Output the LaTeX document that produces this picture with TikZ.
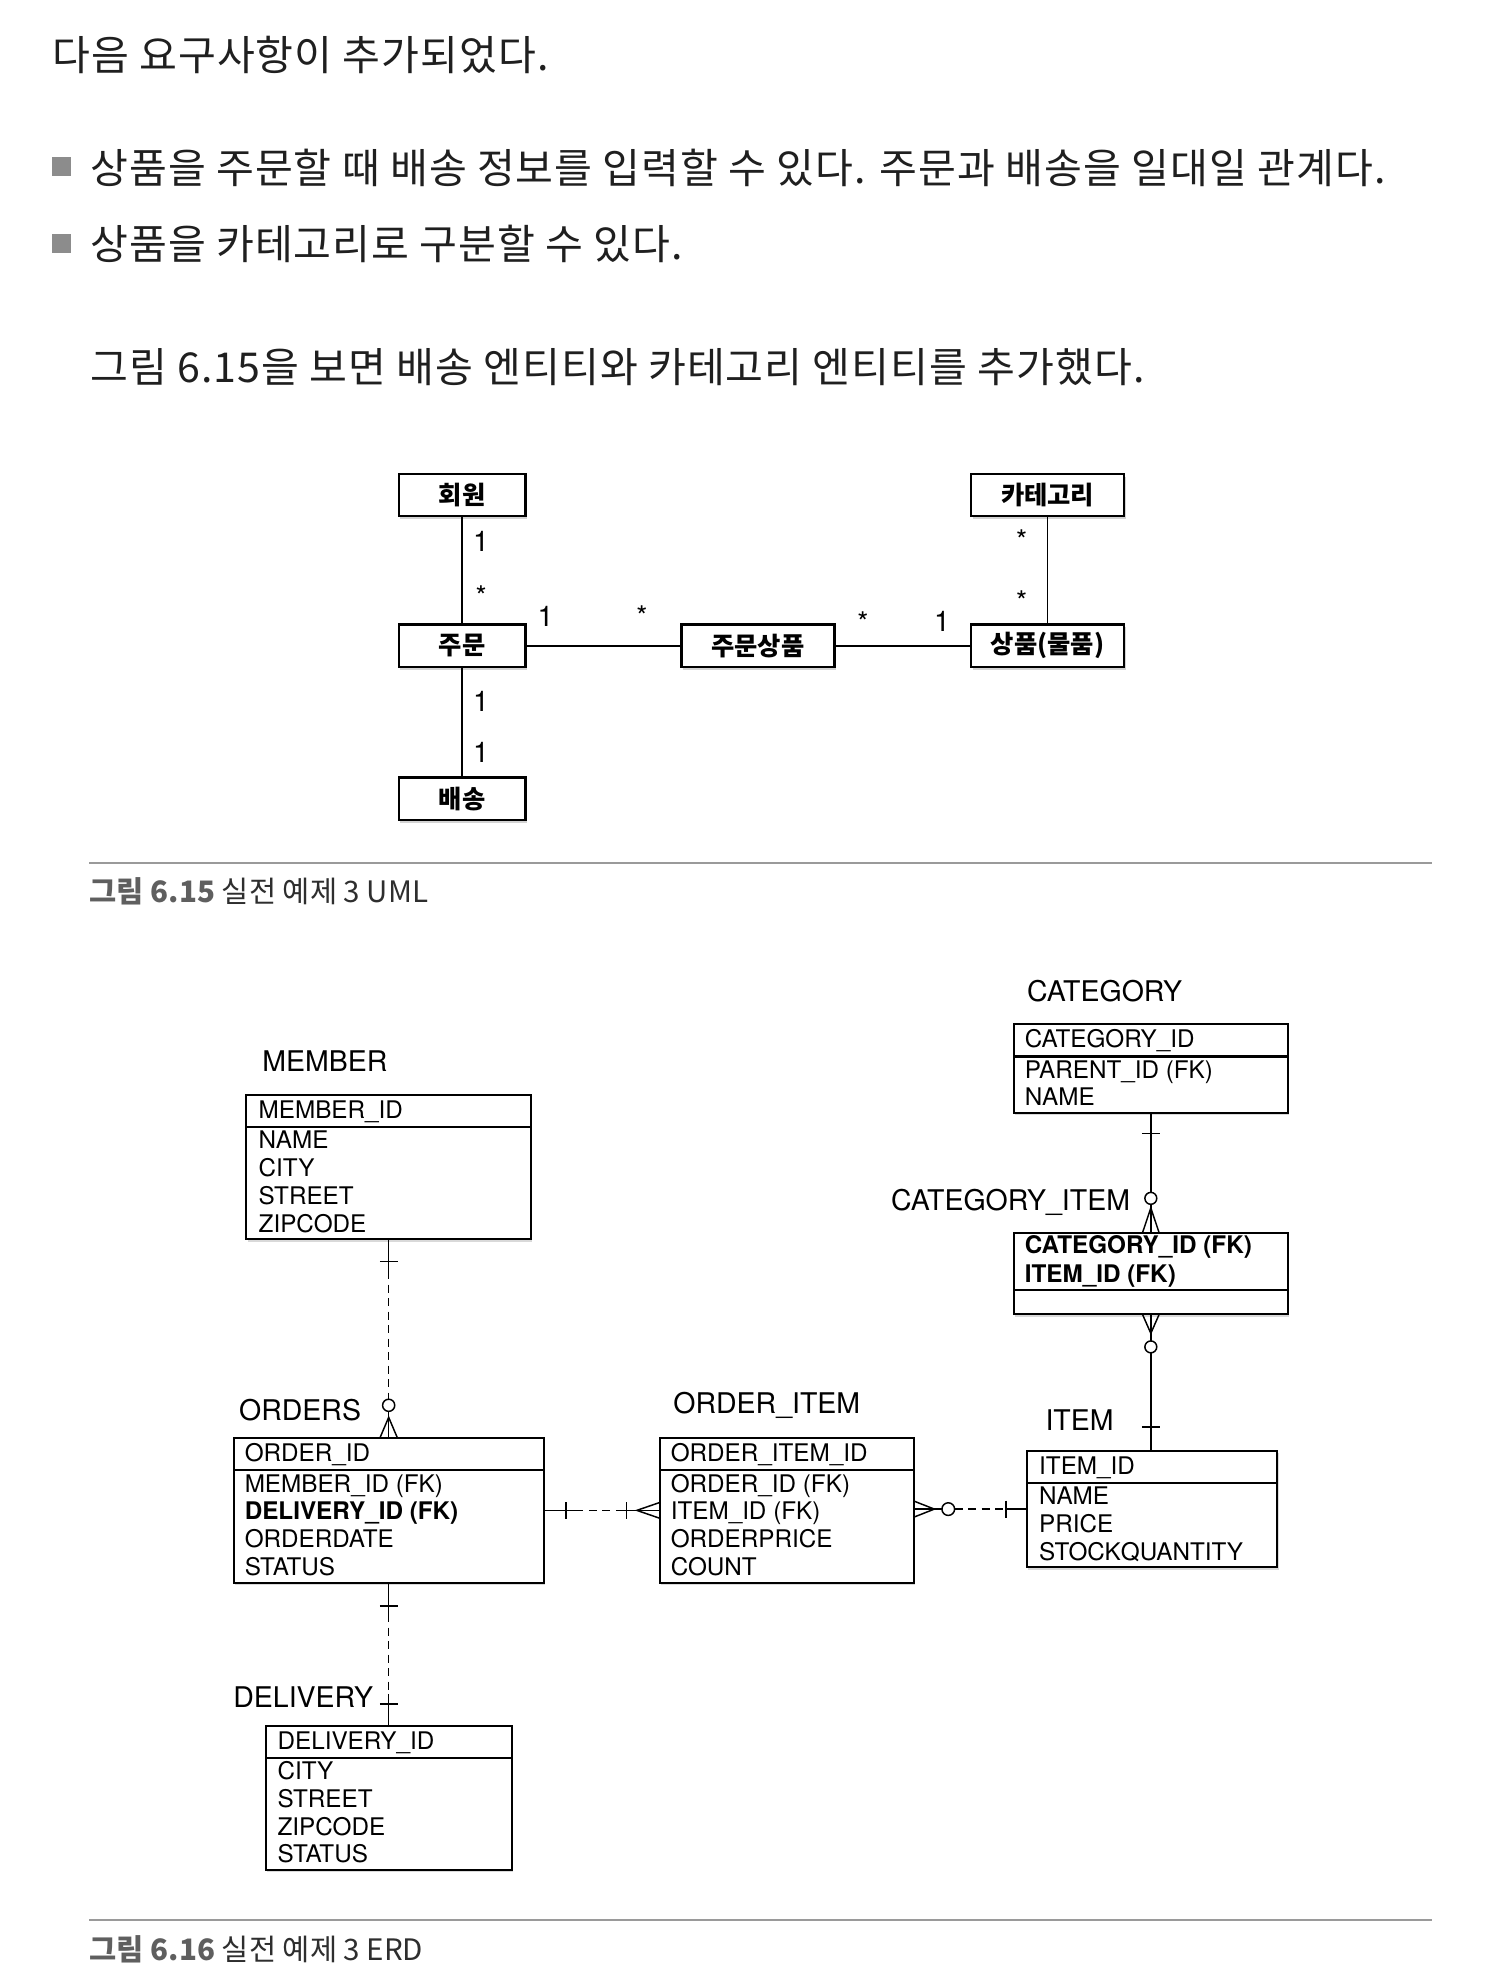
\documentclass[tikz,border=0pt]{standalone}
\usepackage{fontspec}
\newfontfamily\kr{Noto Sans CJK KR}
\newfontfamily\krwide{Noto Sans CJK KR}[LetterSpace=2.5]
\newfontfamily\erd{TeX Gyre Heros}
\usetikzlibrary{calc,shadows}
\definecolor{bulgray}{HTML}{8C8C8C}
\definecolor{capgray}{HTML}{5F5F5F}
\definecolor{rulegray}{HTML}{9A9A9A}

\begin{document}
\begin{tikzpicture}[x=0.6pt, y=-0.6pt,
  txt/.style={font=\krwide\fontsize{19.5}{23}\selectfont, text=black!88, inner sep=0, anchor=west},
  bul/.style={fill=bulgray, minimum size=9pt, inner sep=0},
  cls/.style={draw, line width=1.1pt, fill=white, inner sep=0, outer sep=0,
    minimum width=60pt, minimum height=20.2pt, font=\kr\bfseries\fontsize{12}{14}\selectfont,
    drop shadow={shadow xshift=0.8pt, shadow yshift=-1.4pt, opacity=0.35}},
  mult/.style={font=\erd\fontsize{13.5}{15}\selectfont, inner sep=0},
  sepline/.style={draw=rulegray, line width=0.95pt},
  figcap/.style={font=\kr\fontsize{14}{16}\selectfont, text=black!82, inner sep=0, anchor=west},
  ent/.style={draw, line width=0.95pt, fill=white, inner sep=0, outer sep=0,
    drop shadow={shadow xshift=0.6pt, shadow yshift=-1.2pt, opacity=0.3}},
  title/.style={font=\erd\fontsize{13.5}{15}\selectfont, inner sep=0, anchor=base west},
  col/.style={font=\erd\fontsize{11.5}{13}\selectfont, inner sep=0, anchor=base west},
  rel/.style={line width=0.7pt},
  dsh/.style={rel, dash pattern=on 3.8pt off 2.6pt}
]
\useasboundingbox (0,0) rectangle (1172.2,1568.7);

% text on top
\node[txt] (line1) at (41,43.5) {다음 요구사항이 추가되었다.};
\node[bul] (bul1) at (48.5,131.5) {};
\node[txt] (req1) at (71,133) {상품을 주문할 때 배송 정보를 입력할 수 있다. 주문과 배송을 일대일 관계다.};
\node[bul] (bul2) at (48.5,192) {};
\node[txt] (req2) at (71,193) {상품을 카테고리로 구분할 수 있다.};
\node[txt] (line2) at (71,290) {그림 6.15을 보면 배송 엔티티와 카테고리 엔티티를 추가했다.};

% UML
\node[cls] (umember) at (365,391) {회원};
\node[cls, minimum width=72.6pt] (ucategory) at (827.5,391) {카테고리};
\node[cls] (uorder) at (365,510) {주문};
\node[cls, minimum width=72.4pt] (uorderitem) at (598.7,510) {주문상품};
\node[cls, minimum width=72.6pt] (uitem) at (827.5,510) {상품(물품)};
\node[cls] (udelivery) at (365,631) {배송};

\draw[line width=0.8pt] (umember) -- (uorder);
\draw[line width=0.8pt] (uorder) -- (uorderitem);
\draw[line width=0.8pt] (uorderitem) -- (uitem);
\draw[line width=0.8pt] (ucategory) -- (uitem);
\draw[line width=0.8pt] (uorder) -- (udelivery);

\foreach \t/\x/\y [count=\i] in {1/380/428, */380/471, 1/431/487, */507/487, */681.5/491,
    1/744/491, */807/426.5, */807/475, 1/380/554, 1/380/594}
  \node[mult] (m\i) at (\x,\y) {\t};

\draw[sepline] (70.6,681.4) -- (1131,681.4);
\node[figcap] (cap1) at (70.6,704) {{\color{capgray}\bfseries 그림 6.15} 실전 예제 3 UML};

% ERD
\node[title] (tmember) at (207,846) {MEMBER};
\node[ent, minimum width=135pt, minimum height=68.4pt] (member) at (307,922) {};
\draw[line width=0.95pt] ($(member.north west)+(0,25.5)$) -- ($(member.north east)+(0,25.5)$);
\node[col] (member-id) at ($(member.north west)+(9.5,18.5)$) {MEMBER\_ID};
\foreach \c [count=\i from 0] in {NAME, CITY, STREET, ZIPCODE}
  \node[col] (member-\i) at ($(member.north west)+(9.5,{42.5+22*\i})$) {\c};

\node[title] (torders) at (188.6,1122) {ORDERS};
\node[ent, minimum width=147pt, minimum height=68.4pt] (orders) at (307,1193) {};
\draw[line width=0.95pt] ($(orders.north west)+(0,25.5)$) -- ($(orders.north east)+(0,25.5)$);
\node[col] (orders-id) at ($(orders.north west)+(8.5,18.5)$) {ORDER\_ID};
\foreach \c [count=\i from 0] in {MEMBER\_ID (FK), \textbf{DELIVERY\_ID (FK)}, ORDERDATE, STATUS}
  \node[col] (orders-\i) at ($(orders.north west)+(8.5,{42.5+22*\i})$) {\c};

\node[title] (torderitem) at (531.6,1116.6) {ORDER\_ITEM};
\node[ent, minimum width=120.6pt, minimum height=68.4pt] (orderitem) at (621.5,1193) {};
\draw[line width=0.95pt] ($(orderitem.north west)+(0,25.5)$) -- ($(orderitem.north east)+(0,25.5)$);
\node[col] (orderitem-id) at ($(orderitem.north west)+(8.5,18.5)$) {ORDER\_ITEM\_ID};
\foreach \c [count=\i from 0] in {ORDER\_ID (FK), ITEM\_ID (FK), ORDERPRICE, COUNT}
  \node[col] (orderitem-\i) at ($(orderitem.north west)+(8.5,{42.5+22*\i})$) {\c};

\node[title] (titem) at (825.5,1129.6) {ITEM};
\node[ent, minimum width=118.8pt, minimum height=55.2pt] (item) at (910,1192) {};
\draw[line width=0.95pt] ($(item.north west)+(0,25.5)$) -- ($(item.north east)+(0,25.5)$);
\node[col] (item-id) at ($(item.north west)+(9.5,18.5)$) {ITEM\_ID};
\foreach \c [count=\i from 0] in {NAME, PRICE, STOCKQUANTITY}
  \node[col] (item-\i) at ($(item.north west)+(9.5,{42.5+22*\i})$) {\c};

\node[title] (tcategory) at (811,791) {CATEGORY};
\node[ent, minimum width=130pt, minimum height=42pt] (category) at (909,844) {};
\draw[line width=0.95pt] ($(category.north west)+(0,25.5)$) -- ($(category.north east)+(0,25.5)$);
\node[col] (category-id) at ($(category.north west)+(8.5,18.5)$) {CATEGORY\_ID};
\foreach \c [count=\i from 0] in {PARENT\_ID (FK), NAME}
  \node[col] (category-\i) at ($(category.north west)+(8.5,{42.5+22*\i})$) {\c};

\node[title] (tcatitem) at (703.5,956) {CATEGORY\_ITEM};
\node[ent, minimum width=130pt, minimum height=38.6pt] (catitem) at (909,1006) {};
\draw[line width=0.95pt] ($(catitem.north west)+(0,45.3)$) -- ($(catitem.north east)+(0,45.3)$);
\node[col] (catitem-0) at ($(catitem.north west)+(8.5,16.6)$) {\textbf{CATEGORY\_ID (FK)}};
\node[col] (catitem-1) at ($(catitem.north west)+(8.5,39)$) {\textbf{ITEM\_ID (FK)}};

\node[title] (tdelivery) at (184,1349) {DELIVERY};
\node[ent, minimum width=116.5pt, minimum height=68.4pt] (delivery) at (307,1420) {};
\draw[line width=0.95pt] ($(delivery.north west)+(0,25.5)$) -- ($(delivery.north east)+(0,25.5)$);
\node[col] (delivery-id) at ($(delivery.north west)+(9,18.5)$) {DELIVERY\_ID};
\foreach \c [count=\i from 0] in {CITY, STREET, ZIPCODE, STATUS}
  \node[col] (delivery-\i) at ($(delivery.north west)+(9,{42.5+22*\i})$) {\c};

% member - orders
\coordinate (mo-a) at ($(member.south)+(0,25)$);
\coordinate (mo-b) at ($(orders.north)+(0,-30.8)$);
\draw[rel] (member.south) -- (mo-a);
\draw[rel] ($(member.south)+(-7,17.5)$) -- ++(14,0);
\draw[dsh] (mo-a) -- (mo-b);
\draw[rel] ($(orders.north)+(0,-26)$) circle (4.8);
\draw[rel] ($(orders.north)+(0,-21.2)$) -- (orders.north);
\draw[rel] ($(orders.north)+(-7,0)$) -- ++(7,-16.5) -- ++(7,16.5);

% orders - orderitem
\coordinate (oo-a) at ($(orders.east)+(25,0)$);
\coordinate (oo-b) at ($(orderitem.west)+(-34,0)$);
\draw[rel] (orders.east) -- (oo-a);
\draw[rel] ($(orders.east)+(17.5,-6.5)$) -- ++(0,13);
\draw[dsh] (oo-a) -- (oo-b);
\draw[rel] (oo-b) -- (orderitem.west);
\draw[rel] ($(orderitem.west)+(-26,-6.5)$) -- ++(0,13);
\draw[rel] ($(orderitem.west)+(0,-6.2)$) -- ++(-18,6.2) -- ++(18,6.2);

% orderitem - item
\coordinate (oi-e) at (item.west -| orderitem.east);
\draw[rel] ($(oi-e)+(0,-6.3)$) -- ++(16,6.3) -- ++(-16,6.3);
\draw[rel] (oi-e) -- ++(22,0);
\draw[rel] ($(oi-e)+(27,0)$) circle (5);
\draw[dsh] ($(oi-e)+(32,0)$) -- ($(item.west)+(-16.5,0)$);
\draw[rel] ($(item.west)+(-16.5,0)$) -- (item.west);
\draw[rel] ($(item.west)+(-16.5,-6.7)$) -- ++(0,13.4);

% category - catitem
\draw[rel] (category.south) -- ($(catitem.north)+(0,-32)$);
\draw[rel] ($(category.south)+(-7,16.3)$) -- ++(14,0);
\draw[rel] ($(catitem.north)+(0,-27.3)$) circle (4.7);
\draw[rel] ($(catitem.north)+(0,-22.6)$) -- (catitem.north);
\draw[rel] ($(catitem.north)+(-6.6,0)$) -- ++(6.6,-19.7) -- ++(6.6,19.7);

% catitem - item
\draw[rel] ($(catitem.south)+(-6.6,0)$) -- ++(6.6,15) -- ++(6.6,-15);
\draw[rel] (catitem.south) -- ++(0,21);
\draw[rel] ($(catitem.south)+(0,25.7)$) circle (4.7);
\draw[rel] ($(catitem.south)+(0,30.4)$) -- (catitem.south |- item.north);
\draw[rel] ($(catitem.south |- item.north)+(-7,-19)$) -- ++(14,0);

% orders - delivery
\coordinate (od-a) at ($(orders.south)+(0,25)$);
\coordinate (od-b) at ($(delivery.north)+(0,-25)$);
\draw[rel] (orders.south) -- (od-a);
\draw[rel] ($(orders.south)+(-7,18.6)$) -- ++(14,0);
\draw[dsh] (od-a) -- (od-b);
\draw[rel] (od-b) -- (delivery.north);
\draw[rel] ($(delivery.north)+(-7,-17)$) -- ++(14,0);

\draw[sepline] (70.6,1516.6) -- (1131,1516.6);
\node[figcap] (cap2) at (70.6,1540) {{\color{capgray}\bfseries 그림 6.16} 실전 예제 3 ERD};

\end{tikzpicture}
\end{document}
